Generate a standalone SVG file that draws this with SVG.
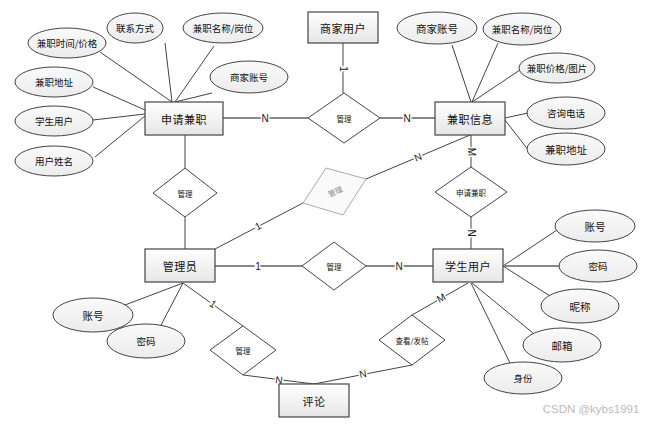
<svg xmlns="http://www.w3.org/2000/svg" width="652" height="424" viewBox="0 0 652 424">
<defs>
<linearGradient id="gr" x1="0" y1="0" x2="0" y2="1"><stop offset="0" stop-color="#ffffff"/><stop offset="1" stop-color="#e6e6e6"/></linearGradient>
<linearGradient id="ge" x1="0" y1="0" x2="0" y2="1"><stop offset="0" stop-color="#fafafa"/><stop offset="1" stop-color="#ececec"/></linearGradient>
<style>
.e{fill:url(#ge);stroke:#444;stroke-width:1}
.r{fill:url(#gr);stroke:#444;stroke-width:1.2}
.d{fill:#fff;stroke:#444;stroke-width:1}
.t{font-family:"Noto Sans CJK SC",sans-serif;fill:#111;text-anchor:middle;dominant-baseline:central}
.te{font-size:9.5px}
.tb{font-size:10.5px}
.tr{font-size:11px;letter-spacing:0.5px}
.td{font-size:7.5px}
.l{stroke:#444;stroke-width:1;fill:none}
.lg{stroke:#888;stroke-width:2;fill:none}
.lb{font-family:"Liberation Sans",sans-serif;font-size:10px;fill:#222;text-anchor:middle;dominant-baseline:central;stroke:#fff;stroke-width:3;paint-order:stroke}
</style>
</defs>
<rect width="652" height="424" fill="#fff"/>
<g id="connectors">
<line class="l" x1="100" y1="52" x2="172" y2="102"/>
<line class="l" x1="165" y1="43" x2="172" y2="102"/>
<line class="l" x1="214" y1="46" x2="175" y2="102"/>
<line class="l" x1="212" y1="93" x2="175" y2="102"/>
<line class="l" x1="93" y1="87" x2="145" y2="110"/>
<line class="l" x1="93" y1="120" x2="145" y2="114"/>
<line class="l" x1="95" y1="157" x2="145" y2="116"/>
<line class="lg" x1="223" y1="118" x2="308" y2="118"/>
<line class="lg" x1="380" y1="118" x2="435" y2="118"/>
<line class="l" x1="343" y1="43" x2="343" y2="93"/>
<line class="l" x1="452" y1="45" x2="471" y2="102"/>
<line class="l" x1="498" y1="43" x2="472" y2="102"/>
<line class="l" x1="520" y1="70" x2="472" y2="102"/>
<line class="l" x1="505" y1="118" x2="528" y2="113"/>
<line class="l" x1="505" y1="120" x2="529" y2="151"/>
<line class="l" x1="471" y1="135" x2="471" y2="167"/>
<line class="l" x1="470" y1="135" x2="366" y2="179"/>
<line class="l" x1="185" y1="135" x2="185" y2="168"/>
<line class="l" x1="185" y1="217" x2="185" y2="249"/>
<line class="l" x1="215" y1="249" x2="303" y2="203"/>
<line class="lg" x1="215" y1="266" x2="302" y2="266"/>
<line class="lg" x1="366" y1="266" x2="433" y2="266"/>
<line class="l" x1="471" y1="217" x2="471" y2="249"/>
<line class="l" x1="183" y1="283" x2="125" y2="305"/>
<line class="l" x1="183" y1="283" x2="160" y2="327"/>
<line class="l" x1="183" y1="283" x2="243" y2="326"/>
<line class="l" x1="243" y1="375" x2="314" y2="384"/>
<line class="l" x1="412" y1="365" x2="314" y2="384"/>
<line class="l" x1="468" y1="283" x2="412" y2="315"/>
<line class="l" x1="503" y1="266" x2="557" y2="230"/>
<line class="lg" x1="503" y1="266" x2="559" y2="266"/>
<line class="l" x1="503" y1="266" x2="550" y2="296"/>
<line class="l" x1="472" y1="283" x2="533" y2="333"/>
<line class="l" x1="471" y1="283" x2="510" y2="363"/>
<text class="lb" x="265" y="118">N</text>
<text class="lb" x="407" y="118">N</text>
<text class="lb" transform="translate(343,69) rotate(90)">1</text>
<text class="lb" transform="translate(471,152) rotate(90)">M</text>
<text class="lb" transform="translate(418,157) rotate(-23)">N</text>
<text class="lb" transform="translate(471,233) rotate(90)">N</text>
<text class="lb" transform="translate(258,226) rotate(-28)">1</text>
<text class="lb" x="258" y="266">1</text>
<text class="lb" x="399" y="266">N</text>
<text class="lb" transform="translate(213,304) rotate(35)">1</text>
<text class="lb" transform="translate(441,298) rotate(-30)">M</text>
<text class="lb" transform="translate(279,380) rotate(7)">N</text>
<text class="lb" transform="translate(363,374) rotate(-11)">N</text>
</g>
<g id="n-sqjz"><rect class="r" x="145" y="102" width="78" height="33"/><text class="t tr" x="184" y="118.5">申请兼职</text></g>
<g id="n-sjyh"><rect class="r" x="308" y="12" width="70" height="31"/><text class="t tr" x="343" y="27.5">商家用户</text></g>
<g id="n-jzxx"><rect class="r" x="435" y="102" width="70" height="33"/><text class="t tr" x="470" y="118.5">兼职信息</text></g>
<g id="n-gly"><rect class="r" x="145" y="249" width="70" height="33"/><text class="t tr" x="180" y="265.5">管理员</text></g>
<g id="n-xsyh"><rect class="r" x="433" y="249" width="70" height="33"/><text class="t tr" x="468" y="265.5">学生用户</text></g>
<g id="n-pl"><rect class="r" x="279" y="384" width="70" height="33"/><text class="t tr" x="314" y="400.5">评论</text></g>
<g id="a-jzsj"><ellipse class="e" cx="67" cy="43" rx="39" ry="15"/><text class="t te" x="67" y="43">兼职时间/价格</text></g>
<g id="a-lxfs"><ellipse class="e" cx="135" cy="28" rx="28" ry="15"/><text class="t te" x="135" y="28">联系方式</text></g>
<g id="a-jzmc1"><ellipse class="e" cx="223" cy="28" rx="40" ry="15"/><text class="t te" x="223" y="28">兼职名称/岗位</text></g>
<g id="a-sjzh1"><ellipse class="e" cx="249" cy="77" rx="39" ry="16"/><text class="t te" x="249" y="77">商家账号</text></g>
<g id="a-jzdz1"><ellipse class="e" cx="54" cy="82" rx="39" ry="15"/><text class="t te" x="54" y="82">兼职地址</text></g>
<g id="a-xsyh"><ellipse class="e" cx="54" cy="121" rx="39" ry="15"/><text class="t te" x="54" y="121">学生用户</text></g>
<g id="a-yhxm"><ellipse class="e" cx="54" cy="161" rx="39" ry="15"/><text class="t te" x="54" y="161">用户姓名</text></g>
<g id="a-sjzh2"><ellipse class="e" cx="437" cy="28" rx="40" ry="16"/><text class="t tb" x="437" y="28">商家账号</text></g>
<g id="a-jzmc2"><ellipse class="e" cx="522" cy="29" rx="39" ry="16"/><text class="t te" x="522" y="29">兼职名称/岗位</text></g>
<g id="a-jzjg"><ellipse class="e" cx="557" cy="68" rx="38" ry="15"/><text class="t te" x="557" y="68">兼职价格/图片</text></g>
<g id="a-zxdh"><ellipse class="e" cx="566" cy="113" rx="39" ry="16"/><text class="t te" x="566" y="113">咨询电话</text></g>
<g id="a-jzdz2"><ellipse class="e" cx="566" cy="149" rx="39" ry="16"/><text class="t tb" x="566" y="149">兼职地址</text></g>
<g id="a-zh1"><ellipse class="e" cx="93" cy="315" rx="40" ry="17"/><text class="t tb" x="93" y="315">账号</text></g>
<g id="a-mm1"><ellipse class="e" cx="146" cy="341" rx="39" ry="17"/><text class="t te" x="146" y="341">密码</text></g>
<g id="a-zh2"><ellipse class="e" cx="595" cy="226" rx="40" ry="16"/><text class="t tb" x="595" y="226">账号</text></g>
<g id="a-mm2"><ellipse class="e" cx="598" cy="266" rx="39" ry="16"/><text class="t te" x="598" y="266">密码</text></g>
<g id="a-nc"><ellipse class="e" cx="580" cy="306" rx="39" ry="17"/><text class="t tb" x="580" y="306">昵称</text></g>
<g id="a-yx"><ellipse class="e" cx="562" cy="345" rx="39" ry="17"/><text class="t tb" x="562" y="345">邮箱</text></g>
<g id="a-sf"><ellipse class="e" cx="523" cy="378" rx="39" ry="16"/><text class="t te" x="523" y="378">身份</text></g>
<g id="r-gl1"><polygon class="d" points="344,93 380,118 344,143 308,118"/><text class="t td" x="344" y="118">管理</text></g>
<g id="r-gl2"><polygon class="d" points="185,168 217,193 185,217 153,193"/><text class="t td" x="185" y="193">管理</text></g>
<g id="r-gl3"><polygon points="326,168 366,179 343,215 303,203" fill="#fafafa" stroke="#aaa" stroke-width="1"/><text class="t td" style="fill:#888" transform="translate(335,191) rotate(-25)">管理</text></g>
<g id="r-sqjz"><polygon class="d" points="471,167 507,192 471,217 435,192"/><text class="t td" x="471" y="192">申请兼职</text></g>
<g id="r-gl4"><polygon class="d" points="334,242 366,266 334,290 302,266"/><text class="t td" x="334" y="266">管理</text></g>
<g id="r-gl5"><polygon class="d" points="243,326 276,350 243,375 210,350"/><text class="t td" x="243" y="350">管理</text></g>
<g id="r-ckft"><polygon class="d" points="412,315 445,340 412,365 379,340"/><text class="t td" x="412" y="340">查看/发帖</text></g>
<text x="591" y="413" font-family="Liberation Sans, sans-serif" font-size="11.5" fill="#bbb" text-anchor="middle">CSDN @kybs1991</text>
</svg>
